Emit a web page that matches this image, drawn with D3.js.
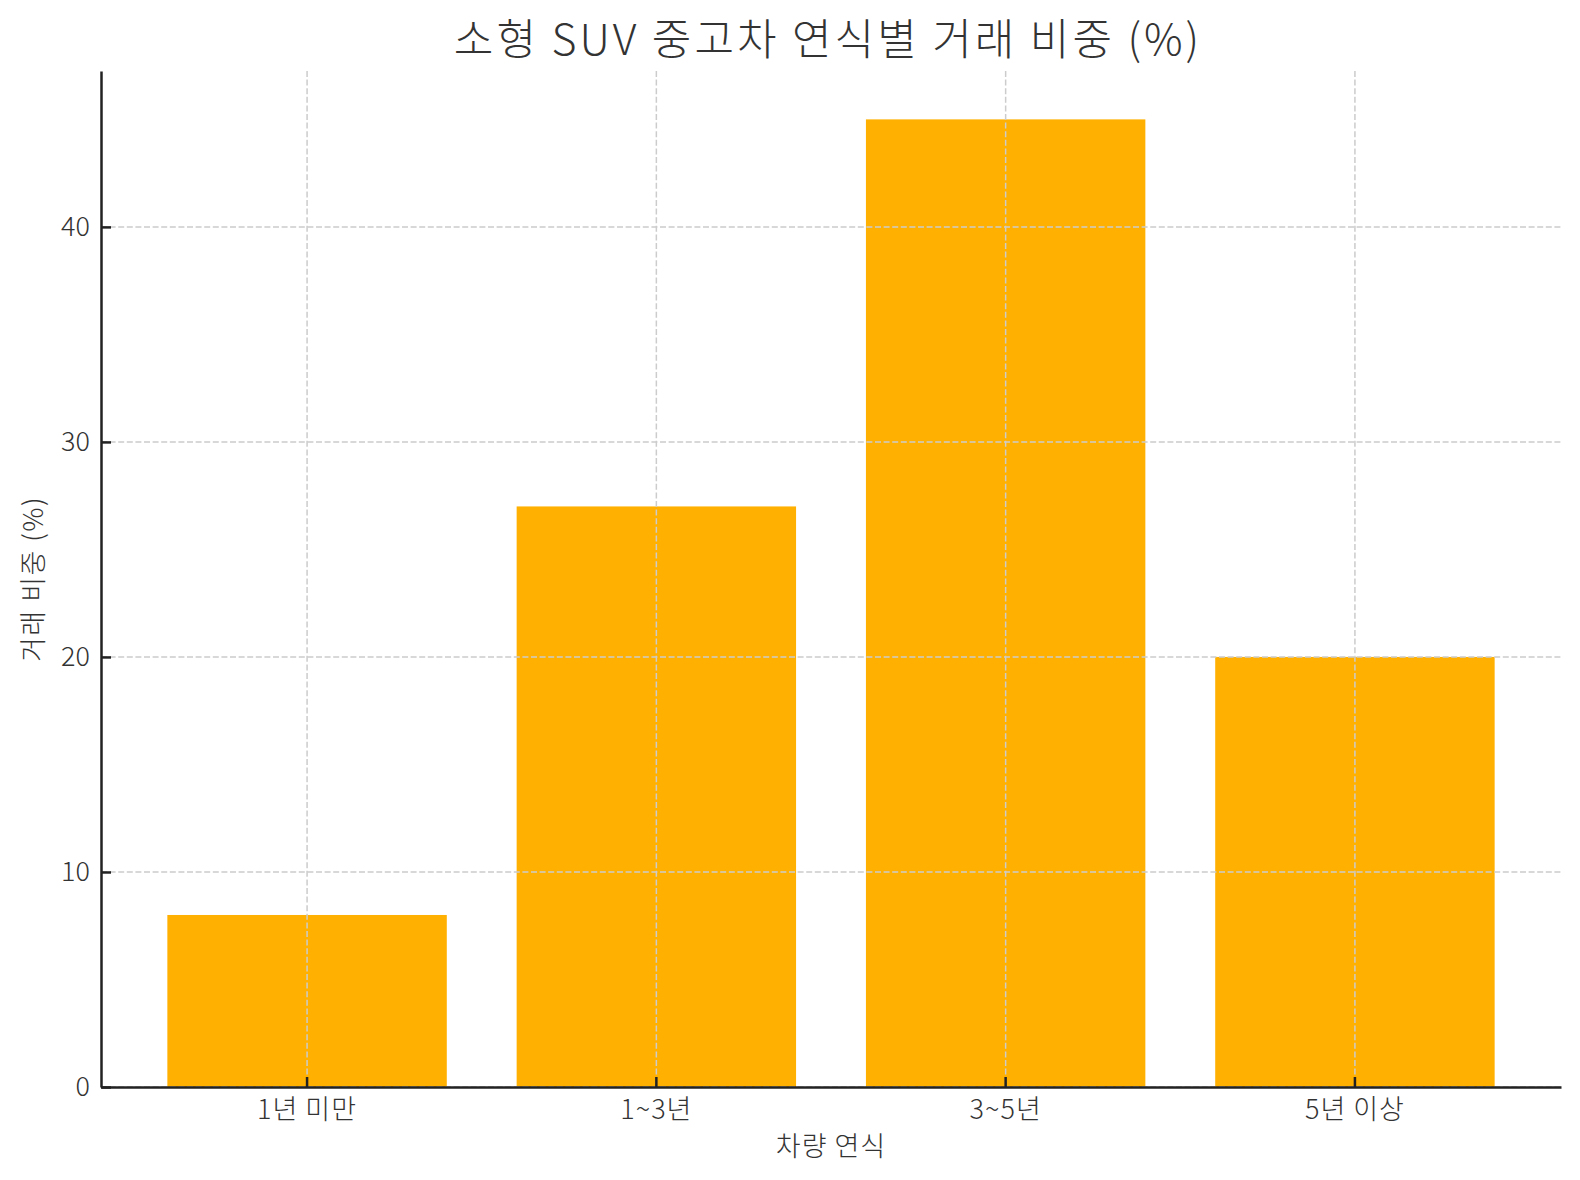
<!DOCTYPE html>
<html>
<head>
  <meta charset="UTF-8">
  <style>
    body {
      margin: 0;
      background-color: white;
      font-family: 'Noto Sans CJK KR', 'Noto Sans', sans-serif;
    }
    svg {
      display: block;
    }
  </style>
</head>
<body>

<svg></svg>

<script src="https://d3js.org/d3.v7.min.js"></script>

<script>
// data
let categories = ["1년 미만", "1~3년", "3~5년", "5년 이상"];
let shares = [8, 27, 45, 20];
let yTicks = [0, 10, 20, 30, 40];

let width = 1580, height = 1180;
let plotLeft = 101, plotRight = 1561, plotTop = 71, plotBottom = 1087;

let svg = d3.select("svg")
    .attr("width", width)
    .attr("height", height);

let x = d3.scaleBand()
    .domain(categories)
    .range([plotLeft, plotRight])
    .paddingInner(0.2)
    .paddingOuter(0.19);

let y = d3.scaleLinear()
    .domain([0, d3.max(shares) * 1.05])
    .range([plotBottom, plotTop]);

// bars
svg.append("g")
    .selectAll("rect")
    .data(categories)
    .enter()
    .append("rect")
    .attr("x", d => x(d))
    .attr("y", (d, i) => y(shares[i]))
    .attr("width", x.bandwidth())
    .attr("height", (d, i) => y(0) - y(shares[i]))
    .attr("fill", "#ffb000");

// grid on top of bars, like the original
let grid = svg.append("g")
    .attr("stroke", "#cccccc")
    .attr("stroke-width", 1.5)
    .attr("stroke-dasharray", "6,2.6");

grid.selectAll(".hgrid")
    .data(yTicks)
    .enter()
    .append("line")
    .attr("x1", plotLeft)
    .attr("x2", plotRight)
    .attr("y1", d => y(d))
    .attr("y2", d => y(d));

grid.selectAll(".vgrid")
    .data(categories)
    .enter()
    .append("line")
    .attr("x1", d => x(d) + x.bandwidth() / 2)
    .attr("x2", d => x(d) + x.bandwidth() / 2)
    .attr("y1", plotTop)
    .attr("y2", plotBottom);

// axes (ticks point inward)
let xAxis = svg.append("g")
    .attr("transform", "translate(0," + plotBottom + ")")
    .call(d3.axisBottom(x).tickSizeInner(-10).tickSizeOuter(0).tickPadding(13));

let yAxis = svg.append("g")
    .attr("transform", "translate(" + plotLeft + ",0)")
    .call(d3.axisLeft(y).tickValues(yTicks).tickSizeInner(-10).tickSizeOuter(0).tickPadding(11));

[xAxis, yAxis].forEach(a => {
  a.select(".domain").attr("stroke", "#222").attr("stroke-width", 2.5);
  a.selectAll(".tick line").attr("stroke", "#222").attr("stroke-width", 2.5);
  a.selectAll(".tick text")
    .attr("fill", "#333")
    .style("font-family", "'Noto Sans CJK KR', sans-serif")
    .style("font-weight", 300)
    .style("font-size", "27px");
});
xAxis.selectAll(".tick text").style("letter-spacing", "1px");

// title and axis labels
svg.append("text")
    .attr("x", (plotLeft + plotRight) / 2 - 3)
    .attr("y", 55)
    .attr("text-anchor", "middle")
    .attr("fill", "#333")
    .style("font-weight", 300)
    .style("font-size", "43px")
    .style("letter-spacing", "3px")
    .text("소형 SUV 중고차 연식별 거래 비중 (%)");

svg.append("text")
    .attr("x", (plotLeft + plotRight) / 2)
    .attr("y", 1156)
    .attr("text-anchor", "middle")
    .attr("fill", "#333")
    .style("font-weight", 300)
    .style("font-size", "27px")
    .style("letter-spacing", "1px")
    .text("차량 연식");

svg.append("text")
    .attr("transform", "translate(43," + ((plotTop + plotBottom) / 2) + ") rotate(-90)")
    .attr("text-anchor", "middle")
    .attr("fill", "#333")
    .style("font-weight", 300)
    .style("font-size", "27px")
    .style("letter-spacing", "1.5px")
    .text("거래 비중 (%)");
</script>

</body>
</html>
